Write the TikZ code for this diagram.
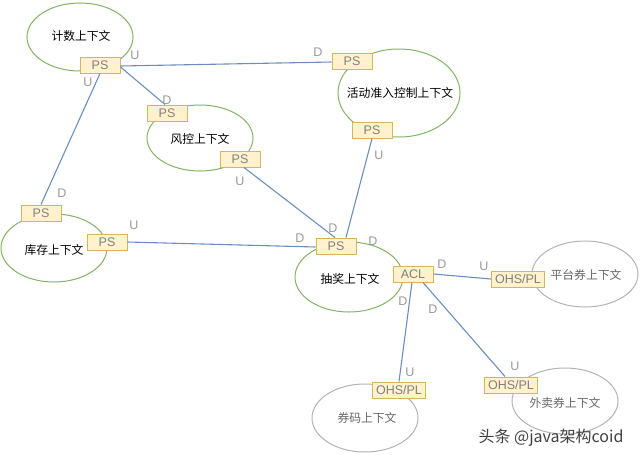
\documentclass[tikz,border=0pt]{standalone}
\usepackage{fontspec}
\setmainfont{Liberation Sans}
\newfontfamily\cjk{Noto Sans CJK SC}
\usetikzlibrary{shapes.geometric,calc}
\definecolor{ctxgreen}{HTML}{82B366}
\definecolor{ctxgray}{HTML}{B3B3B3}
\definecolor{boxfill}{HTML}{FFF2CC}
\definecolor{boxline}{HTML}{D6B656}
\definecolor{linkblue}{HTML}{6C8EBF}
\definecolor{lblgray}{HTML}{999999}
\begin{document}
\begin{tikzpicture}[x=1pt,y=-1pt,
  ctx/.style={ellipse,draw=ctxgreen,line width=1pt,inner sep=0pt},
  ctxg/.style={ellipse,draw=ctxgray,line width=1pt,inner sep=0pt},
  ctxname/.style={font=\cjk\fontsize{11.8}{13}\selectfont,text=black,inner sep=0pt},
  ctxnameg/.style={ctxname,text=black!60},
  port/.style={draw=boxline,fill=boxfill,line width=1pt,inner sep=0pt,minimum height=16pt,minimum width=40pt,font=\fontsize{12.5}{14}\selectfont,text=black!50},
  portw/.style={port,minimum width=53pt},
  link/.style={draw=linkblue,line width=1.1pt},
  lbl/.style={font=\fontsize{12.5}{14}\selectfont,text=lblgray,inner sep=0pt}]
\useasboundingbox (0,0) rectangle (640,459);
% contexts
\node[ctx,minimum width=106pt,minimum height=68pt] (jishu) at (80,37) {};
\node[ctx,minimum width=106pt,minimum height=66pt] (fengkong) at (200,138) {};
\node[ctx,minimum width=122pt,minimum height=88pt] (huodong) at (399,93) {};
\node[ctx,minimum width=106pt,minimum height=68pt] (kucun) at (54,248) {};
\node[ctx,minimum width=108pt,minimum height=70pt] (choujiang) at (349,277) {};
\node[ctxg,minimum width=106pt,minimum height=66pt] (pingtai) at (585,274) {};
\node[ctxg,minimum width=106pt,minimum height=68pt] (quanma) at (365,418) {};
\node[ctxg,minimum width=106pt,minimum height=66pt] (waimai) at (565,401) {};
% context names
\node[ctxname] (tJ) at (81,36) {计数上下文};
\node[ctxname] (tF) at (200,139) {风控上下文};
\node[ctxname] (tH) at (400,93) {活动准入控制上下文};
\node[ctxname] (tK) at (54,250) {库存上下文};
\node[ctxname] (tC) at (350,279) {抽奖上下文};
\node[ctxnameg] (tP) at (586,275) {平台券上下文};
\node[ctxnameg] (tQ) at (367,418) {券码上下文};
\node[ctxnameg] (tW) at (565,403) {外卖券上下文};
% ports
\node[port] (p1) at (100,65) {PS};
\node[port] (p2) at (167,113) {PS};
\node[port] (p3) at (240,159) {PS};
\node[port] (p4) at (352,61) {PS};
\node[port] (p5) at (372,130) {PS};
\node[port] (p6) at (41,213) {PS};
\node[port] (p7) at (107,242) {PS};
\node[port] (p8) at (336,246) {PS};
\node[port] (acl) at (413,274) {ACL};
\node[portw] (o1) at (518,279) {OHS/PL};
\node[portw] (o2) at (399,390) {OHS/PL};
\node[portw] (o3) at (511,385) {OHS/PL};
% links
\draw[link] ($(p1.east)+(0,1)$) -- ($(p4.west)+(0,1)$);
\draw[link] ($(p1.east)+(0,2)$) -- ($(p2.north)+(-2,0)$);
\draw[link] (p1.south) -- (p6.north);
\draw[link] ($(p3.south)+(4,0)$) -- ($(p8.north)+(-1,0)$);
\draw[link] (p5.south) -- ($(p8.north)+(10,0)$);
\draw[link] (p7.east) -- ($(p8.west)+(0,1)$);
\draw[link] (acl.east) -- (o1.west);
\draw[link] ($(acl.south)+(-1,0)$) -- (o2.north);
\draw[link] ($(acl.south)+(10,0)$) -- ($(o3.north)+(-6,0)$);
% labels
\node[lbl] (l1) at (135,55) {U};
\node[lbl] (l2) at (318,52) {D};
\node[lbl] (l3) at (167,100) {D};
\node[lbl] (l4) at (88,82) {U};
\node[lbl] (l5) at (62,193) {D};
\node[lbl] (l6) at (240,181) {U};
\node[lbl] (l7) at (333,228) {D};
\node[lbl] (l8) at (379,155) {U};
\node[lbl] (l9) at (134,225) {U};
\node[lbl] (l10) at (300,238) {D};
\node[lbl] (l11) at (373,241) {D};
\node[lbl] (l12) at (442,264) {D};
\node[lbl] (l13) at (484,266) {U};
\node[lbl] (l14) at (403,301) {D};
\node[lbl] (l15) at (410,372) {U};
\node[lbl] (l16) at (433,309) {D};
\node[lbl] (l17) at (515,366) {U};
% watermark
\node[font=\cjk\fontsize{16}{18}\selectfont,text=black!75,inner sep=0pt] (wm) at (551,438) {头条 @java架构coid};
\end{tikzpicture}
\end{document}
